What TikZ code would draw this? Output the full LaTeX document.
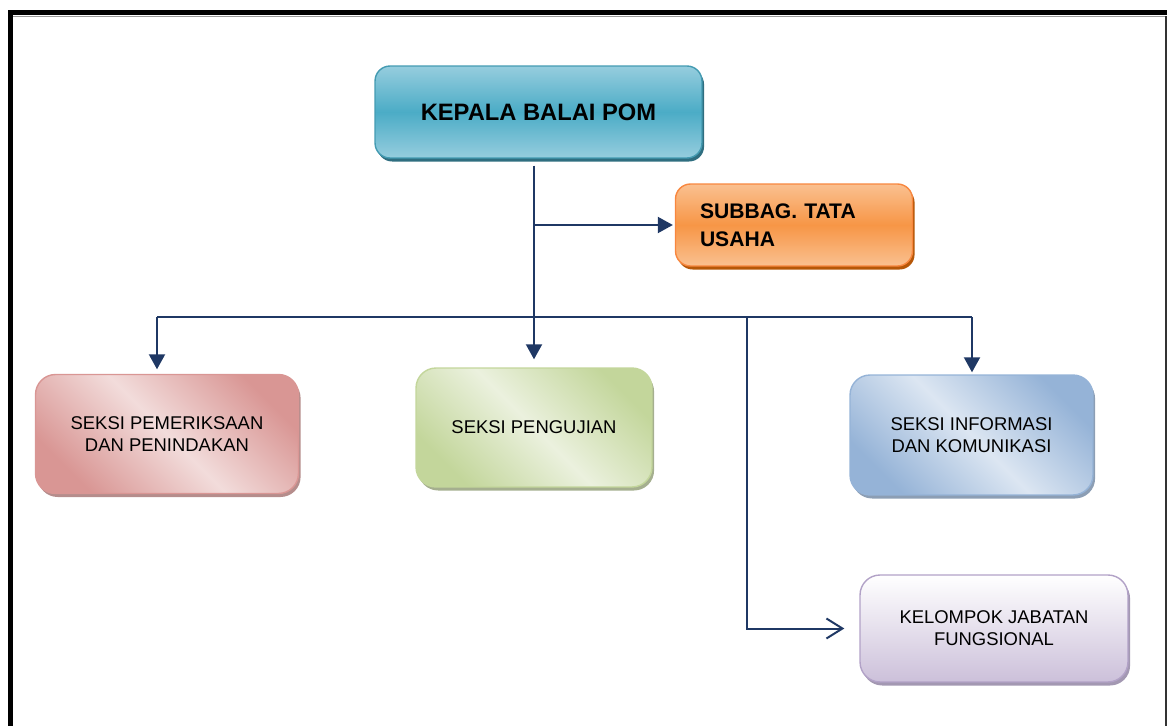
\documentclass[tikz,border=0pt]{standalone}
\usepackage{fontspec}
\setmainfont{Liberation Sans}
\usepackage{tikz}
\usetikzlibrary{arrows.meta, shadows, positioning}
\definecolor{mline}{RGB}{31,56,100}
\definecolor{mteal}{RGB}{75,172,198}
\definecolor{mtealtop}{RGB}{150,205,222}
\definecolor{mteald}{RGB}{47,110,128}
\definecolor{morange}{RGB}{247,150,70}
\definecolor{morangetop}{RGB}{250,192,144}
\definecolor{moranged}{RGB}{182,87,8}
\definecolor{mpink}{RGB}{217,150,148}
\definecolor{mpinkl}{RGB}{242,220,219}
\definecolor{mgreen}{RGB}{195,214,155}
\definecolor{mgreenl}{RGB}{235,241,222}
\definecolor{mblue}{RGB}{149,179,215}
\definecolor{mbluel}{RGB}{220,230,242}
\definecolor{mpurple}{RGB}{204,192,218}
\definecolor{mpurpled}{RGB}{178,162,199}
\tikzset{
	box/.style={rounded corners=0.4cm, line width=0.8pt, inner sep=0pt, align=center, font=\fontsize{10.5pt}{12.5pt}\selectfont},
	kepalabox/.style={draw=mteal!90!black, top color=mtealtop, bottom color=mtealtop, middle color=mteal, rounded corners=0.3cm, font=\bfseries\fontsize{13.5pt}{16pt}\selectfont, drop shadow={shadow xshift=1.2pt, shadow yshift=-2pt, fill=mteald, opacity=1}},
	subbagbox/.style={draw=morange!90!red, top color=morangetop, bottom color=morangetop, middle color=morange, rounded corners=0.3cm, font=\bfseries\fontsize{12pt}{15.9pt}\selectfont, drop shadow={shadow xshift=1.2pt, shadow yshift=-2pt, fill=moranged, opacity=1}},
	pinkbox/.style={draw=mpink, top color=mpink, bottom color=mpink, middle color=mpinkl, shading angle=-45, drop shadow={shadow xshift=1.2pt, shadow yshift=-2pt, fill=mpink!60!gray, opacity=1}},
	greenbox/.style={draw=mgreen, top color=mgreen, bottom color=mgreen, middle color=mgreenl, shading angle=-45, drop shadow={shadow xshift=1.2pt, shadow yshift=-2pt, fill=mgreen!55!gray, opacity=1}},
	bluebox/.style={draw=mblue, top color=mblue, bottom color=mblue, middle color=mbluel, shading angle=-45, drop shadow={shadow xshift=1.2pt, shadow yshift=-2pt, fill=mblue!60!gray, opacity=1}},
	purplebox/.style={draw=mpurpled, top color=white, bottom color=mpurple, drop shadow={shadow xshift=1.2pt, shadow yshift=-2pt, fill=mpurpled!70!gray, opacity=1}},
	conn/.style={draw=mline, line width=0.04cm},
	arr/.style={conn, -{Triangle[length=0.3cm, width=0.32cm]}},
	openarr/.style={conn, -{Straight Barb[length=0.32cm, width=0.4cm]}}
}

\begin{document}
\begin{tikzpicture}[x=0.02cm, y=-0.02cm]
	\useasboundingbox (0,0) rectangle (1167,726);
	\draw (10.5,726)--(10.5,12.5)--(1167,12.5) [line width=0.1cm];
	\draw (13,16)--(1167,16) [black!40, line width=0.5pt];
	\draw (1166,16)--(1166,726) [black!80, line width=0.6pt];
	\node (kepala) [box, kepalabox, minimum width=6.54cm, minimum height=1.84cm] at (538.5,112) {KEPALA BALAI POM};
	\node (subbag) [box, subbagbox, align=left, text width=3.76cm, inner xsep=0.49cm, minimum height=1.64cm] at (794,225) {SUBBAG. TATA USAHA};
	\node (pemeriksaan) [box, pinkbox, minimum width=5.26cm, minimum height=2.38cm] at (167,434) {SEKSI PEMERIKSAAN\\DAN PENINDAKAN};
	\node (pengujian) [box, greenbox, minimum width=4.72cm, minimum height=2.38cm] at (534,427.5) {SEKSI PENGUJIAN};
	\node (informasi) [box, bluebox, minimum width=4.86cm, minimum height=2.4cm] at (971.5,435) {SEKSI INFORMASI\\DAN KOMUNIKASI};
	\node (kelompok) [box, purplebox, minimum width=5.36cm, minimum height=2.14cm] at (994,628.5) {KELOMPOK JABATAN\\FUNGSIONAL};
	\coordinate (busL) at (157,317);
	\coordinate (busK) at (747,317);
	\coordinate (busR) at (972,317);
	\draw [conn] (busL)--(busR);
	\draw [arr, shorten <=0.14cm, shorten >=0.16cm] (kepala.south -| pengujian.north)--(pengujian.north);
	\draw [arr, shorten >=0.04cm] (subbag.west -| pengujian.north)--(subbag.west);
	\draw [arr, shorten >=0.09cm] (busL)--(busL |- pemeriksaan.north);
	\draw [arr, shorten >=0.04cm] (busR)--(busR |- informasi.north);
	\draw [openarr, shorten >=0.3cm] (busK) |- (kelompok.west);
\end{tikzpicture}
\end{document}
